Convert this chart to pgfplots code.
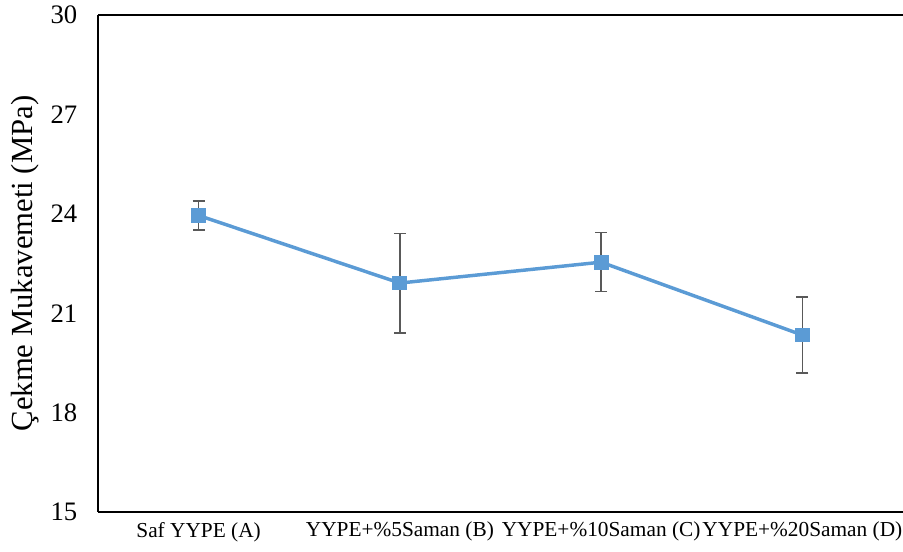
\documentclass[border=0pt]{standalone}
\usepackage{pgfplots}
\pgfplotsset{compat=1.18}
\usepackage{fontspec}
\setmainfont{Liberation Serif}
\definecolor{lineblue}{HTML}{5B9BD5}
\definecolor{errgray}{HTML}{595959}
\begin{document}
\begin{tikzpicture}[x=1pt,y=1pt]
\useasboundingbox (-73.5pt,-30pt) rectangle (603.75pt,384pt);
\begin{axis}[
  at={(0,0)}, anchor=south west,
  scale only axis,
  width=603.75pt, height=372.75pt,
  xmin=-0.5, xmax=3.5,
  ymin=15, ymax=30,
  ytick={15,18,21,24,27,30},
  xtick={0,1,2,3},
  xticklabels={Saf YYPE (A),YYPE+\%5Saman (B),YYPE+\%10Saman (C),YYPE+\%20Saman (D)},
  major tick length=0pt,
  axis line style={draw=none},
  /pgf/number format/assume math mode=true,
  yticklabel style={font=\fontsize{20}{24}\selectfont, xshift=-12pt},
  xticklabel style={font=\fontsize{16}{19}\selectfont, yshift=-4pt},
  ylabel={Çekme Mukavemeti (MPa)},
  every axis y label/.style={at={(ticklabel cs:0.5)}, rotate=90, anchor=south, yshift=2pt, font=\fontsize{23}{27}\selectfont},
  clip=false,
]
\draw[black, line width=1.5pt] (rel axis cs:0,0) -- (rel axis cs:1,0);
\draw[black, line width=1.5pt] (rel axis cs:0,1) -- (rel axis cs:1,1);
\draw[black, line width=1.5pt] (rel axis cs:0,0) -- (rel axis cs:0,1);
\addplot[
  color=lineblue, line width=2.6pt,
  mark=square*, mark size=5.2pt, mark options={fill=lineblue, draw=lineblue, line width=0pt},
  error bars/.cd, y dir=both, y explicit,
  error bar style={color=errgray, line width=1.2pt},
  error mark options={rotate=90, mark size=4.5pt, line width=1.2pt, color=errgray},
] coordinates {
  (0,23.95) +- (0,0.44)
  (1,21.91) +- (0,1.50)
  (2,22.54) +- (0,0.89)
  (3,20.34) +- (0,1.15)
};
\end{axis}
\end{tikzpicture}
\end{document}
